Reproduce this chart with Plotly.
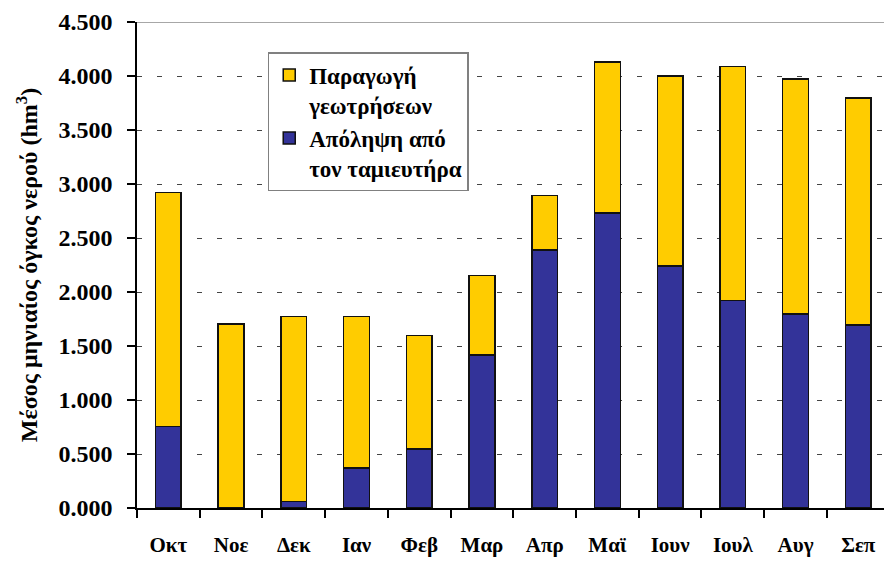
import plotly.graph_objects as go

# Monthly mean water volumes (hm³)
months = ["Οκτ", "Νοε", "Δεκ", "Ιαν", "Φεβ", "Μαρ", "Απρ", "Μαϊ", "Ιουν", "Ιουλ", "Αυγ", "Σεπ"]
reservoir_abstraction = [0.755, 0.0, 0.060, 0.370, 0.545, 1.418, 2.390, 2.732, 2.241, 1.920, 1.797, 1.696]
borehole_production = [2.168, 1.702, 1.712, 1.402, 1.052, 0.737, 0.505, 1.398, 1.761, 2.169, 2.174, 2.100]

FONT = "Liberation Serif"
BLUE = "#333399"
YELLOW = "#FFCC00"

fig = go.Figure()
fig.add_trace(go.Bar(
    x=months, y=reservoir_abstraction,
    name="Απόληψη από<br>τον ταμιευτήρα",
    marker=dict(color=BLUE, line=dict(color="#111111", width=1.5)),
    width=0.41,
))
fig.add_trace(go.Bar(
    x=months, y=borehole_production,
    name="Παραγωγή<br>γεωτρήσεων",
    marker=dict(color=YELLOW, line=dict(color="#111111", width=1.5)),
    width=0.41,
))

fig.update_layout(
    barmode="stack",
    width=884, height=562,
    margin=dict(l=137, r=0, t=22, b=54),
    paper_bgcolor="white",
    plot_bgcolor="white",
    font=dict(family=FONT, color="black", weight="bold"),
    showlegend=True,
    legend=dict(
        x=0.175, y=0.938, xanchor="left", yanchor="top",
        traceorder="reversed",
        valign="top",
        bgcolor="white",
        bordercolor="#808080", borderwidth=1.5,
        font=dict(family=FONT, size=23, color="black", weight="bold"),
        tracegroupgap=4,
    ),
    xaxis=dict(
        range=[-0.5, 11.41],
        showline=True, linecolor="black", linewidth=1.5,
        ticks="outside", tickson="boundaries", ticklen=8, tickcolor="black", tickwidth=1.5,
        tickfont=dict(family=FONT, size=21, color="black", weight="bold"),
        ticklabelstandoff=17,
        showgrid=False,
    ),
    yaxis=dict(
        range=[0, 4.5],
        dtick=0.5, tick0=0,
        tickformat=".3f",
        showline=True, linecolor="black", linewidth=1.5,
        ticks="outside", ticklen=8, tickcolor="black", tickwidth=1.5,
        tickfont=dict(family=FONT, size=24, color="black", weight="bold"),
        ticklabelstandoff=10,
        showgrid=True, gridcolor="#444444", gridwidth=1, griddash="5px,15px",
        zeroline=False,
        title=dict(
            text="Μέσος μηνιαίος όγκος νερού (hm<sup>3</sup>)",
            font=dict(family=FONT, size=24, color="black", weight="bold"),
            standoff=14,
        ),
    ),
)

# Solid upper border of the plotting area
fig.add_shape(type="line", xref="paper", yref="y", x0=0, x1=1, y0=4.5, y1=4.5,
              line=dict(color="#8a8a8a", width=1.5), layer="above")

fig.write_html("out.html")
